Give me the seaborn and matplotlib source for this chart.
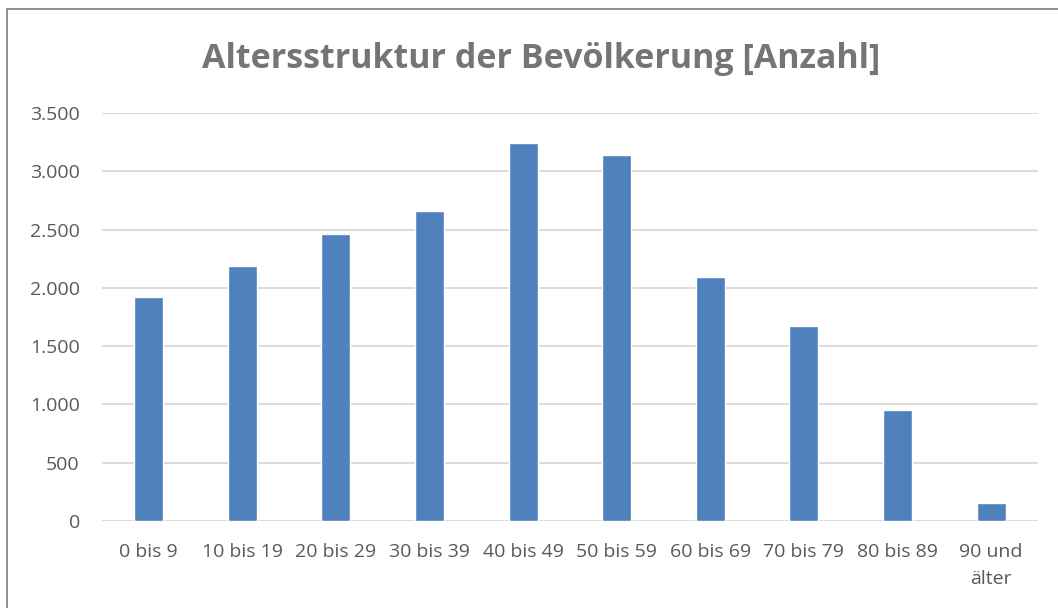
import matplotlib
matplotlib.use("Agg")
import matplotlib.pyplot as plt
import matplotlib.ticker as mticker
from matplotlib.lines import Line2D
import pandas as pd
import seaborn as sns

# data
age_groups = ["0 bis 9", "10 bis 19", "20 bis 29", "30 bis 39", "40 bis 49",
              "50 bis 59", "60 bis 69", "70 bis 79", "80 bis 89", "90 und\nälter"]
counts = [1920, 2189, 2461, 2662, 3240, 3137, 2097, 1671, 956, 157]
y_ticks = [0, 500, 1000, 1500, 2000, 2500, 3000, 3500]

title = "Altersstruktur der Bevölkerung [Anzahl]"
bar_color = "#4F81BD"
text_gray = "#595959"
grid_gray = "#D9D9D9"

df = pd.DataFrame({"Altersgruppe": age_groups, "Anzahl": counts})

sns.set_theme(style="white")
plt.rcParams["font.family"] = ["Open Sans", "DejaVu Sans"]

fig = plt.figure(figsize=(10.58, 6.08), dpi=100)
ax = fig.add_axes([0.0964, 0.1431, 0.8846, 0.671])

sns.barplot(data=df, x="Altersgruppe", y="Anzahl", color=bar_color,
            saturation=1, width=0.31, ax=ax, zorder=3)

ax.set_ylim(0, 3500)
ax.set_yticks(y_ticks)
ax.yaxis.set_major_formatter(
    mticker.FuncFormatter(lambda v, p: f"{int(v):,}".replace(",", ".")))
ax.set_xlim(-0.5, len(age_groups) - 0.5)
ax.set_xlabel("")
ax.set_ylabel("")

ax.grid(axis="y", color=grid_gray, linewidth=1.3, zorder=0)
ax.grid(axis="x", visible=False)
for s in ax.spines.values():
    s.set_visible(False)
ax.tick_params(axis="both", length=0, labelsize=14, colors=text_gray)
ax.tick_params(axis="y", pad=16)
ax.tick_params(axis="x", pad=16)
for lbl in ax.get_xticklabels():
    lbl.set_linespacing(1.65)

fig.text(0.511, 0.903, title, ha="center", va="center", fontsize=24.5,
         fontweight="bold", color="#757575")

# chart border: only top and left edges are visible in the reference
fig.lines.append(Line2D([7 / 1058, 1], [1 - 8.5 / 608, 1 - 8.5 / 608],
                        transform=fig.transFigure, color="#868686", linewidth=1.3))
fig.lines.append(Line2D([7 / 1058, 7 / 1058], [0, 1 - 8.5 / 608],
                        transform=fig.transFigure, color="#868686", linewidth=1.3))

fig.savefig("out.png", dpi=100)
